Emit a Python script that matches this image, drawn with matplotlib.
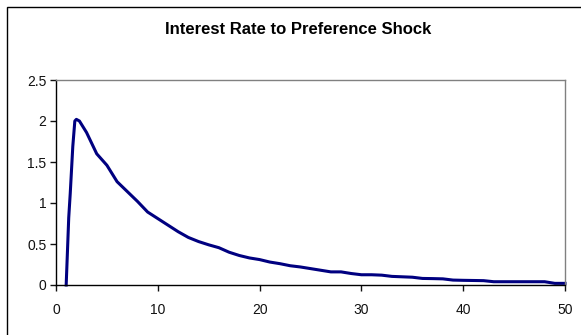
import matplotlib.pyplot as plt
from matplotlib.patches import Rectangle

plt.rcParams['font.family'] = ['Liberation Sans', 'DejaVu Sans']

# impulse response of the interest rate, by period
periods = [1, 1.25, 1.4, 1.65, 1.85, 2, 2.3, 3, 4, 5, 6, 7, 8, 9, 10,
           11, 12, 13, 14, 15, 16, 17, 18, 19, 20, 21, 22, 23, 24, 25,
           26, 27, 28, 29, 30, 31, 32, 33, 34, 35, 36, 37, 38, 39, 40,
           41, 42, 43, 44, 45, 46, 47, 48, 49, 50]
rate = [0.0, 0.82, 1.12, 1.69, 2.0, 2.02, 2.0, 1.86, 1.60, 1.46, 1.26,
        1.14, 1.02, 0.89, 0.81, 0.73, 0.65, 0.58, 0.53, 0.49, 0.455,
        0.40, 0.36, 0.33, 0.31, 0.28, 0.26, 0.235, 0.22, 0.20, 0.18,
        0.16, 0.16, 0.14, 0.125, 0.125, 0.12, 0.105, 0.10, 0.095, 0.08,
        0.078, 0.075, 0.06, 0.057, 0.055, 0.053, 0.04, 0.04, 0.04, 0.04,
        0.04, 0.04, 0.02, 0.02]

fig = plt.figure(figsize=(5.81, 3.35), dpi=100)
W, H = 581, 335
ax = fig.add_axes([56 / W, 1 - 285 / H, (565 - 56) / W, (285 - 80) / H])

# chart border (runs off the right and bottom edges)
fig.patches.append(Rectangle((7 / W, -0.1), 1.2, 1 - 7 / H + 0.1,
                             transform=fig.transFigure, fill=False,
                             edgecolor='black', linewidth=1.0))

ax.plot(periods, rate, color='#000080', linewidth=2.2,
        solid_joinstyle='round', clip_on=False)

ax.set_xlim(0, 50)
ax.set_ylim(0, 2.5)
ax.set_xticks([0, 10, 20, 30, 40, 50])
ax.set_yticks([0, 0.5, 1, 1.5, 2, 2.5])
ax.set_yticklabels(['0', '0.5', '1', '1.5', '2', '2.5'])
ax.tick_params(direction='out', length=4, width=1, labelsize=10,
               colors='#111111', pad=3)
ax.tick_params(axis='x', pad=9)

ax.spines['left'].set_color('black')
ax.spines['bottom'].set_color('black')
ax.spines['top'].set_color('#808080')
ax.spines['right'].set_color('#808080')
for s in ax.spines.values():
    s.set_linewidth(1.0)

fig.text(298 / W, 1 - 29 / H, 'Interest Rate to Preference Shock',
         ha='center', va='center', fontsize=12, fontweight='bold')

fig.savefig('out.png', dpi=100)
